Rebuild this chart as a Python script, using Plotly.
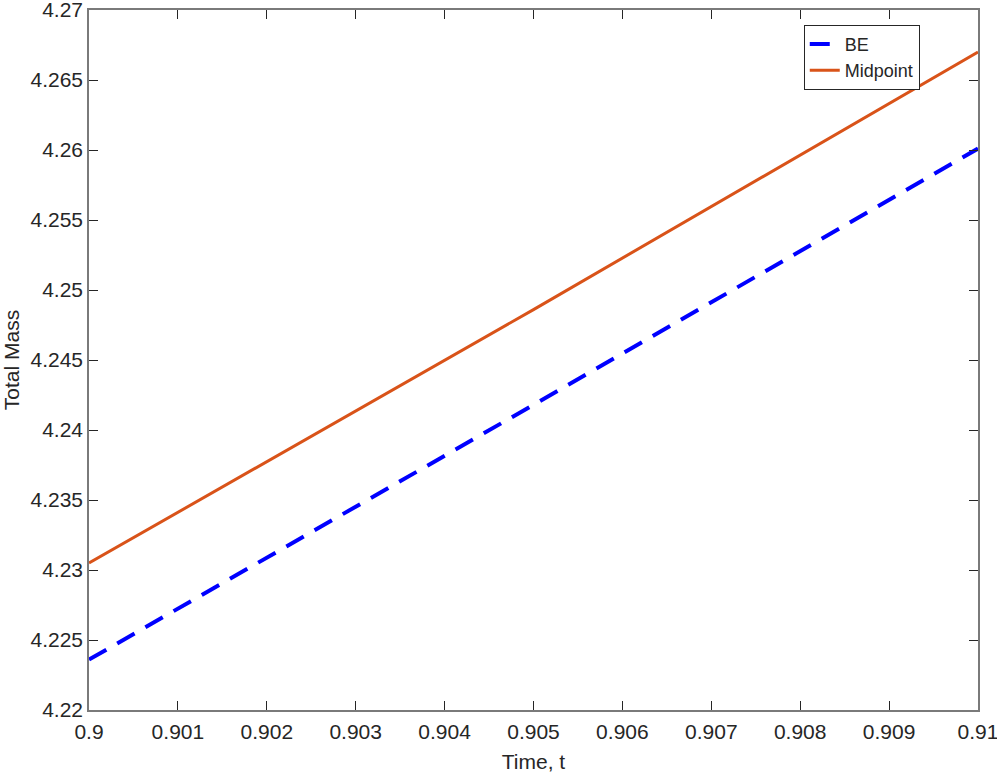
import plotly.graph_objects as go

# dados
t = [0.9, 0.905, 0.91]
mass_be = [4.2236, 4.2418, 4.2601]
mass_mid = [4.2305, 4.2486, 4.2670]

x_ticks = [0.9, 0.901, 0.902, 0.903, 0.904, 0.905, 0.906, 0.907, 0.908, 0.909, 0.91]
y_ticks = [4.22, 4.225, 4.23, 4.235, 4.24, 4.245, 4.25, 4.255, 4.26, 4.265, 4.27]

fig = go.Figure()
fig.add_trace(go.Scatter(x=t, y=mass_be, mode='lines', name='BE',
                         line=dict(color='#0000FF', width=4, dash='20px,12.5px')))
fig.add_trace(go.Scatter(x=t, y=mass_mid, mode='lines', name='Midpoint',
                         line=dict(color='#D95319', width=3)))

axis_style = dict(showgrid=False, zeroline=False, showline=True, mirror='ticks',
                  linecolor='#7a7a7a', linewidth=1.5, ticks='inside', ticklen=9,
                  tickcolor='#262626', tickfont=dict(size=21, color='#262626'),
                  automargin=False, ticklabeloverflow='allow')

fig.update_layout(
    width=997, height=774,
    plot_bgcolor='white', paper_bgcolor='white',
    font=dict(family='Liberation Sans, Arial, sans-serif', color='#262626'),
    margin=dict(l=89, r=19, t=10, b=64),
    xaxis=dict(range=[0.9, 0.91], tickvals=x_ticks, ticktext=[f"{v:g}" for v in x_ticks],
               ticklabelstandoff=2,
               title=dict(text='Time, t', font=dict(size=21), standoff=12), **axis_style),
    yaxis=dict(range=[4.22, 4.27], tickvals=y_ticks, ticktext=[f"{v:g}" for v in y_ticks],
               title=dict(text='Total Mass', font=dict(size=21), standoff=8), **axis_style),
    legend=dict(x=0.804, y=0.979, xanchor='left', yanchor='top', bgcolor='white',
                bordercolor='#262626', borderwidth=1, font=dict(size=18),
                tracegroupgap=0),
    showlegend=True,
)

# tira a margem padrão do body para o gráfico começar em (0, 0)
fig.write_html("out.html", config={'displayModeBar': False},
               post_script="document.body.style.margin='0';")
